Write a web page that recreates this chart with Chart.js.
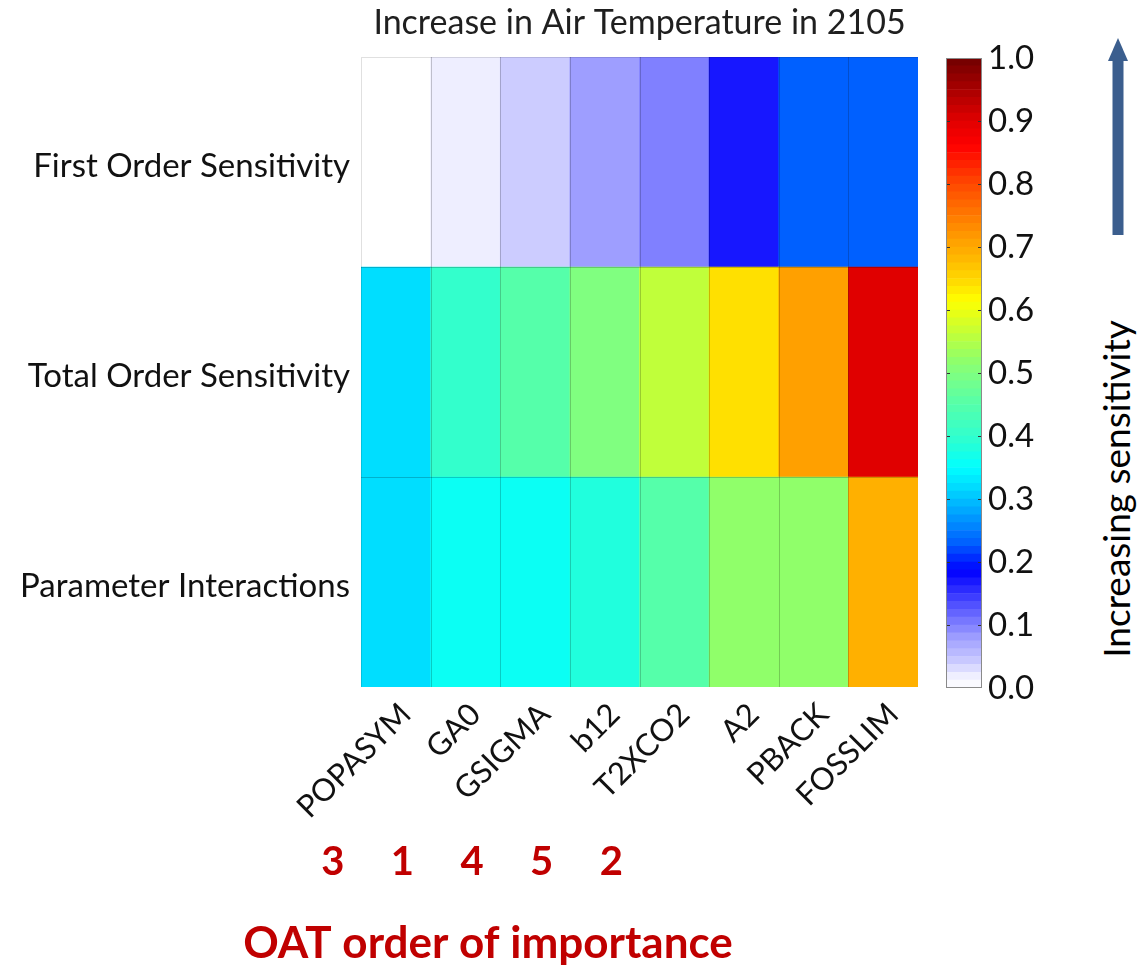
<!DOCTYPE html>
<html>
<head>
<meta charset="utf-8">
<title>Increase in Air Temperature in 2105</title>
<script src="https://cdn.jsdelivr.net/npm/chart.js@4.4.1/dist/chart.umd.min.js"></script>
<style>
  html, body { margin: 0; padding: 0; background: #ffffff; }
  #page { position: relative; width: 1138px; height: 970px; overflow: hidden; background: #ffffff; }
  canvas { position: absolute; }
  #heat { left: 0; top: 0; }
  #cbar { left: 930px; top: 0; }
  #arrow { position: absolute; left: 1100px; top: 30px; }
  #sens {
    position: absolute; left: 1115px; top: 489px;
    transform: translate(-50%, -50%) rotate(-90deg);
    font-family: Lato, "Open Sans", sans-serif; font-size: 37px; color: #000;
    white-space: nowrap;
  }
</style>
</head>
<body>
<div id="page">
  <canvas id="heat" width="930" height="970"></canvas>
  <canvas id="cbar" width="130" height="970"></canvas>
  <svg id="arrow" width="40" height="220" viewBox="0 0 40 220">
    <polygon points="12.5,29 23.5,29 23.5,205 12.5,205" fill="#3b5e8e"/>
    <polygon points="8,31 18,8 28,31" fill="#3b5e8e"/>
  </svg>
  <div id="sens">Increasing sensitivity</div>
</div>
<script>
// Parameters (columns) and the three sensitivity measures (rows)
const params = ['POPASYM', 'GA0', 'GSIGMA', 'b12', 'T2XCO2', 'A2', 'PBACK', 'FOSSLIM'];
const rowNames = ['First Order Sensitivity', 'Total Order Sensitivity', 'Parameter Interactions'];

// Sobol indices per parameter
const firstOrder   = [0.00, 0.02, 0.04, 0.08, 0.10, 0.17, 0.23, 0.23];
const totalOrder   = [0.32, 0.40, 0.45, 0.50, 0.56, 0.64, 0.71, 0.90];
const interactions = [0.32, 0.36, 0.36, 0.38, 0.45, 0.52, 0.52, 0.69];

// One-at-a-time ranking of the first five parameters
const oatRank = [3, 1, 4, 5, 2, null, null, null];

// Colour scale range and number of discrete levels in the colour bar
const scaleMin = 0, scaleMax = 1, scaleStep = 0.1, cbarLevels = 80;

// White-to-jet colour map
const cmapStops = [
  [0.00, '#ffffff'], [0.02, '#eeeeff'], [0.04, '#ccccff'], [0.08, '#9e9eff'], [0.10, '#8080ff'],
  [0.185, '#0000ff'], [0.23, '#0060ff'], [0.32, '#00deff'], [0.35, '#00ffff'], [0.38, '#20ffdd'],
  [0.40, '#33ffcc'], [0.45, '#55ffaa'], [0.50, '#80ff80'], [0.52, '#90ff6a'], [0.56, '#c0ff3a'],
  [0.615, '#ffff00'], [0.64, '#ffe000'], [0.69, '#ffb000'], [0.71, '#ffa000'], [0.80, '#ff4800'],
  [0.86, '#ff0000'], [0.90, '#e00000'], [1.00, '#700000']
];
function hexRgb(h) { return [1, 3, 5].map(i => parseInt(h.substr(i, 2), 16)); }
function cmap(v) {
  v = Math.max(0, Math.min(1, v));
  for (let i = 1; i < cmapStops.length; i++) {
    const [p1, c1] = cmapStops[i];
    const [p0, c0] = cmapStops[i - 1];
    if (v <= p1) {
      const t = (v - p0) / (p1 - p0);
      const a = hexRgb(c0), b = hexRgb(c1);
      const c = a.map((x, k) => Math.round(x + (b[k] - x) * t));
      return `rgb(${c[0]},${c[1]},${c[2]})`;
    }
  }
  return cmapStops[cmapStops.length - 1][1];
}

const labelFont = 'Lato, "Open Sans", sans-serif';

// Rows stacked from the bottom up
const rowsBottomUp = [
  { name: rowNames[2], values: interactions },
  { name: rowNames[1], values: totalOrder },
  { name: rowNames[0], values: firstOrder }
];

const heatDecor = {
  id: 'heatDecor',
  afterDatasetsDraw(chart) {
    // thin cell separators
    const { ctx, chartArea, scales } = chart;
    const x = scales.x, y = scales.y;
    ctx.save();
    ctx.lineWidth = 1;
    ctx.strokeStyle = 'rgba(0,0,0,0.2)';
    ctx.beginPath();
    for (let i = 1; i < params.length; i++) {
      const px = Math.round((x.getPixelForValue(i - 1) + x.getPixelForValue(i)) / 2) + 0.5;
      ctx.moveTo(px, chartArea.top); ctx.lineTo(px, chartArea.bottom);
    }
    for (let r = 1; r < rowsBottomUp.length; r++) {
      const py = Math.round(y.getPixelForValue(r)) + 0.5;
      ctx.moveTo(chartArea.left, py); ctx.lineTo(chartArea.right, py);
    }
    ctx.stroke();
    ctx.strokeStyle = 'rgba(0,0,0,0.12)';
    ctx.beginPath();
    ctx.moveTo(chartArea.left + 0.5, chartArea.bottom);
    ctx.lineTo(chartArea.left + 0.5, chartArea.top + 0.5);
    ctx.lineTo(chartArea.right, chartArea.top + 0.5);
    ctx.stroke();
    ctx.restore();
  },
  afterDraw(chart) {
    const { ctx, chartArea, scales } = chart;
    ctx.save();
    ctx.fillStyle = '#1f1f1f';
    ctx.font = `34px ${labelFont}`;
    ctx.textAlign = 'center';
    ctx.textBaseline = 'middle';
    ctx.fillText('Increase in Air Temperature in 2105', (chartArea.left + chartArea.right) / 2, 23);

    ctx.fillStyle = '#c00000';
    ctx.font = `bold 40px ${labelFont}`;
    oatRank.forEach((r, i) => {
      if (r == null) return;
      ctx.fillText(String(r), scales.x.getPixelForValue(i) - 63, 862);
    });
    ctx.font = `bold 44px ${labelFont}`;
    ctx.fillText('OAT order of importance', 488, 944);
    ctx.restore();
  }
};

new Chart(document.getElementById('heat'), {
  type: 'bar',
  data: {
    labels: params,
    datasets: rowsBottomUp.map(r => ({
      label: r.name,
      data: params.map(() => 1),
      backgroundColor: r.values.map(cmap),
      borderWidth: 0,
      barPercentage: 1,
      categoryPercentage: 1
    }))
  },
  options: {
    responsive: false,
    animation: false,
    layout: { padding: { top: 57, right: 12, left: 0, bottom: 0 } },
    plugins: { legend: { display: false }, tooltip: { enabled: false }, title: { display: false } },
    scales: {
      x: {
        stacked: true,
        grid: { display: false },
        border: { display: false },
        ticks: {
          autoSkip: false, maxRotation: 45, minRotation: 45, padding: 1, labelOffset: 10,
          color: '#111', font: { family: labelFont, size: 31 }
        },
        afterFit(scale) { scale.height = 283; }
      },
      y: {
        stacked: true, min: 0, max: rowsBottomUp.length,
        grid: { display: false, drawTicks: false },
        border: { display: false },
        afterBuildTicks(axis) {
          axis.ticks = rowsBottomUp.map((r, i) => ({ value: i + 0.5 }));
        },
        ticks: {
          padding: 11, labelOffset: 4, color: '#111', font: { family: labelFont, size: 33 },
          callback: v => rowsBottomUp[Math.floor(v)].name
        },
        afterFit(scale) { scale.width = 361; }
      }
    }
  },
  plugins: [heatDecor]
});

// Colour bar: one floating bar per discrete level
const cbarDecor = {
  id: 'cbarDecor',
  afterDatasetsDraw(chart) {
    const { ctx, chartArea, scales } = chart;
    ctx.save();
    ctx.strokeStyle = '#333';
    ctx.lineWidth = 1;
    for (let v = scaleMin + scaleStep; v < scaleMax - 1e-9; v += scaleStep) {
      const y = Math.round(scales.y.getPixelForValue(v)) + 0.5;
      ctx.beginPath();
      ctx.moveTo(chartArea.left, y); ctx.lineTo(chartArea.left + 4, y);
      ctx.moveTo(chartArea.right - 4, y); ctx.lineTo(chartArea.right, y);
      ctx.stroke();
    }
    ctx.strokeStyle = '#8a8a8a';
    ctx.strokeRect(chartArea.left + 0.5, chartArea.top + 0.5,
      chartArea.right - chartArea.left - 1, chartArea.bottom - chartArea.top - 1);
    ctx.restore();
  }
};

const levelEdges = Array.from({ length: cbarLevels }, (_, k) =>
  [scaleMin + (scaleMax - scaleMin) * k / cbarLevels, scaleMin + (scaleMax - scaleMin) * (k + 1) / cbarLevels]);

new Chart(document.getElementById('cbar'), {
  type: 'bar',
  data: {
    labels: [''],
    datasets: levelEdges.map(([lo, hi]) => ({
      data: [[lo, hi]],
      backgroundColor: cmap((lo + hi) / 2),
      borderWidth: 0,
      barPercentage: 1,
      categoryPercentage: 1,
      grouped: false
    }))
  },
  options: {
    responsive: false,
    animation: false,
    layout: { padding: { top: 58, left: 16, right: 0, bottom: 282 } },
    plugins: { legend: { display: false }, tooltip: { enabled: false } },
    scales: {
      x: { display: false },
      y: {
        position: 'right', min: scaleMin, max: scaleMax,
        grid: { display: false, drawTicks: false },
        border: { display: false },
        ticks: {
          stepSize: scaleStep, padding: 6, color: '#111',
          font: { family: labelFont, size: 33 },
          callback: v => Number(v).toFixed(1)
        },
        afterFit(scale) { scale.width = 78; }
      }
    }
  },
  plugins: [cbarDecor]
});
</script>
</body>
</html>
